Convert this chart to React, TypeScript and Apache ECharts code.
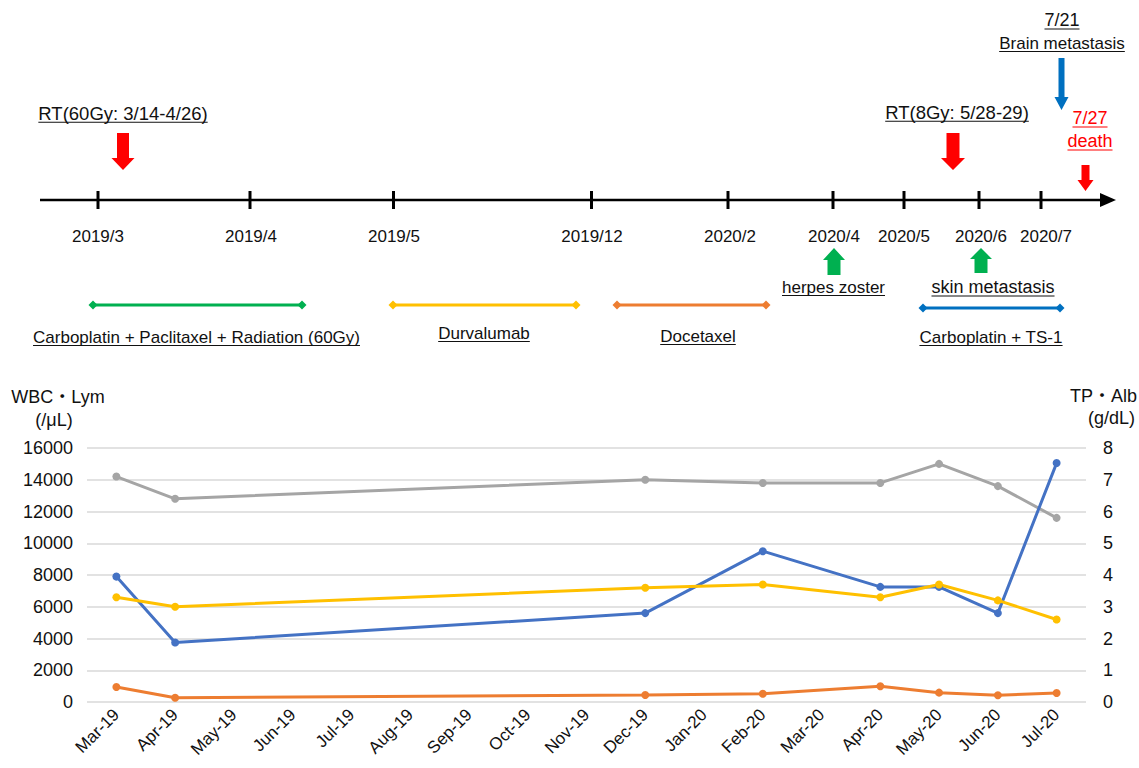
import React, { useEffect, useRef } from "react";
import * as echarts from "echarts";

const FONT = "'Liberation Sans', Arial, 'Noto Sans CJK JP', sans-serif";

// ---- chart data ----
const months = [
  "Mar-19", "Apr-19", "May-19", "Jun-19", "Jul-19", "Aug-19", "Sep-19", "Oct-19", "Nov-19",
  "Dec-19", "Jan-20", "Feb-20", "Mar-20", "Apr-20", "May-20", "Jun-20", "Jul-20",
];
const wbc = [7900, 3750, null, null, null, null, null, null, null, 5600, null, 9500, null, 7250, 7250, 5600, 15050];
const lym = [950, 270, null, null, null, null, null, null, null, 440, null, 520, null, 990, 590, 420, 570];
const tp = [7.1, 6.4, null, null, null, null, null, null, null, 7.0, null, 6.9, null, 6.9, 7.5, 6.8, 5.8];
const alb = [3.3, 3.0, null, null, null, null, null, null, null, 3.6, null, 3.7, null, 3.3, 3.7, 3.2, 2.6];
const leftTicks = { min: 0, max: 16000, interval: 2000 };
const rightTicks = { min: 0, max: 8, interval: 1 };

// ---- timeline text ----
const timelineLabels = ["2019/3", "2019/4", "2019/5", "2019/12", "2020/2", "2020/4", "2020/5", "2020/6", "2020/7"];
const treatments = ["Carboplatin + Paclitaxel + Radiation (60Gy)", "Durvalumab", "Docetaxel", "Carboplatin + TS-1"];

// ---- timeline layout ----
const tickX = [98, 250, 393.5, 591.5, 728, 833, 904, 979, 1041];
const labelX = [98, 251, 394, 592, 730, 834, 904, 981, 1046];
const treatmentLayout = [
  { x1: 93, x2: 302, y: 305, color: "#00B050", lx: 196.5, ly: 337 },
  { x1: 393, x2: 576, y: 305, color: "#FFC000", lx: 484, ly: 333 },
  { x1: 617, x2: 766, y: 305, color: "#ED7D31", lx: 698, ly: 336 },
  { x1: 923, x2: 1060, y: 308, color: "#0070C0", lx: 991, ly: 337 },
];

const TEXT = "#111";

let measureCtx: CanvasRenderingContext2D | null = null;
function textWidth(t: string, size: number) {
  if (!measureCtx) measureCtx = document.createElement("canvas").getContext("2d");
  if (!measureCtx) return t.length * size * 0.55;
  measureCtx.font = `${size}px ${FONT}`;
  return measureCtx.measureText(t).width;
}

function txt(text: string, x: number, y: number, size: number, color = TEXT, align = "center") {
  return {
    type: "text",
    x,
    y,
    style: { text, fill: color, font: `${size}px ${FONT}`, align, verticalAlign: "middle" },
    z: 10,
  };
}

function utxt(text: string, x: number, y: number, size: number, color = TEXT, align = "center") {
  const w = textWidth(text, size);
  const x1 = align === "center" ? x - w / 2 : align === "right" ? x - w : x;
  const uy = y + size * 0.5;
  return [
    txt(text, x, y, size, color, align),
    { type: "line", shape: { x1, y1: uy, x2: x1 + w, y2: uy }, style: { stroke: color, lineWidth: 1.2 }, z: 10 },
  ];
}

function downArrow(cx: number, top: number, headY: number, tip: number, sh: number, hh: number, color: string) {
  return {
    type: "polygon",
    shape: {
      points: [
        [cx - sh, top], [cx + sh, top], [cx + sh, headY], [cx + hh, headY],
        [cx, tip], [cx - hh, headY], [cx - sh, headY],
      ],
    },
    style: { fill: color },
    z: 10,
  };
}

function upArrow(cx: number, bottom: number, headY: number, tip: number, sh: number, hh: number, color: string) {
  return {
    type: "polygon",
    shape: {
      points: [
        [cx - sh, bottom], [cx + sh, bottom], [cx + sh, headY], [cx + hh, headY],
        [cx, tip], [cx - hh, headY], [cx - sh, headY],
      ],
    },
    style: { fill: color },
    z: 10,
  };
}

function diamond(cx: number, cy: number, r: number, color: string) {
  return {
    type: "polygon",
    shape: { points: [[cx - r, cy], [cx, cy - r], [cx + r, cy], [cx, cy + r]] },
    style: { fill: color },
    z: 10,
  };
}

function buildGraphics() {
  const g: any[] = [];
  // timeline axis
  g.push({ type: "line", shape: { x1: 40, y1: 200, x2: 1102, y2: 200 }, style: { stroke: "#000", lineWidth: 2.5 }, z: 10 });
  g.push({ type: "polygon", shape: { points: [[1100, 193], [1116, 200], [1100, 207]] }, style: { fill: "#000" }, z: 10 });
  tickX.forEach((x) => {
    g.push({ type: "line", shape: { x1: x, y1: 191, x2: x, y2: 209 }, style: { stroke: "#000", lineWidth: 3 }, z: 10 });
  });
  timelineLabels.forEach((l, i) => g.push(txt(l, labelX[i], 236, 17)));

  // RT events
  g.push(...utxt("RT(60Gy: 3/14-4/26)", 123, 113, 18.5));
  g.push(downArrow(123, 133, 158, 170, 6, 11.5, "#FF0000"));
  g.push(...utxt("RT(8Gy: 5/28-29)", 957, 112, 18.5));
  g.push(downArrow(953, 133, 158, 170, 6.5, 12, "#FF0000"));

  // brain metastasis
  g.push(...utxt("7/21", 1062, 20, 18));
  g.push(...utxt("Brain metastasis", 1062, 43, 17));
  g.push(downArrow(1061.5, 58, 97, 110, 3, 7, "#0070C0"));

  // death
  g.push(...utxt("7/27", 1090, 118, 18, "#FF0000"));
  g.push(...utxt("death", 1090, 141, 18, "#FF0000"));
  g.push(downArrow(1085.5, 165, 180, 191, 4, 8, "#FF0000"));

  // herpes zoster / skin metastasis
  g.push(upArrow(834, 275, 260, 248, 6.5, 11, "#00B050"));
  g.push(...utxt("herpes zoster", 833.5, 287, 17));
  g.push(upArrow(981, 273, 259, 248, 6.5, 11, "#00B050"));
  g.push(...utxt("skin metastasis", 993, 287, 18));

  // treatments
  treatments.forEach((t, i) => {
    const L = treatmentLayout[i];
    g.push({ type: "line", shape: { x1: L.x1, y1: L.y, x2: L.x2, y2: L.y }, style: { stroke: L.color, lineWidth: 3 }, z: 10 });
    g.push(diamond(L.x1, L.y, 4.5, L.color));
    g.push(diamond(L.x2, L.y, 4.5, L.color));
    g.push(...utxt(t, L.lx, L.ly, 17));
  });

  // axis titles
  g.push(txt("WBC・Lym", 58, 397, 18));
  g.push(txt("(/μL)", 54, 420, 18));
  g.push(txt("TP・Alb", 1137, 396, 18, TEXT, "right"));
  g.push(txt("(g/dL)", 1135, 418, 18, TEXT, "right"));
  return g;
}

export default function App() {
  const ref = useRef<HTMLDivElement>(null);
  useEffect(() => {
    if (!ref.current) return;
    const chart = echarts.init(ref.current, null, { renderer: "svg" });
    const lineSeries = (name: string, data: any[], color: string, yAxisIndex: number) => ({
      name,
      type: "line",
      data,
      yAxisIndex,
      connectNulls: true,
      symbol: "circle",
      symbolSize: 8,
      itemStyle: { color },
      lineStyle: { color, width: 3 },
    });
    chart.setOption({
      animation: false,
      textStyle: { fontFamily: FONT },
      grid: { left: 87, right: 53, top: 448, height: 254, containLabel: false },
      xAxis: {
        type: "category",
        data: months,
        boundaryGap: true,
        axisLine: { show: false },
        axisTick: { show: false },
        axisLabel: { rotate: 45, fontSize: 17, color: TEXT, margin: 10, interval: 0, fontFamily: FONT },
      },
      yAxis: [
        {
          type: "value",
          ...leftTicks,
          axisLine: { show: false },
          axisTick: { show: false },
          axisLabel: { fontSize: 18, color: TEXT, margin: 14, fontFamily: FONT, formatter: (v: number) => String(v) },
          splitLine: { lineStyle: { color: "#D9D9D9", width: 1.5 } },
        },
        {
          type: "value",
          ...rightTicks,
          position: "right",
          axisLine: { show: false },
          axisTick: { show: false },
          axisLabel: { fontSize: 18, color: TEXT, margin: 17, fontFamily: FONT, formatter: (v: number) => String(v) },
          splitLine: { show: false },
        },
      ],
      series: [
        lineSeries("TP", tp, "#A5A5A5", 1),
        lineSeries("WBC", wbc, "#4472C4", 0),
        lineSeries("Alb", alb, "#FFC000", 1),
        lineSeries("Lym", lym, "#ED7D31", 0),
      ],
      graphic: buildGraphics(),
    });
    return () => chart.dispose();
  }, []);
  return (
    <div
      ref={ref}
      style={{ position: "absolute", left: 0, top: 0, width: 1139, height: 768, background: "#fff" }}
    />
  );
}
